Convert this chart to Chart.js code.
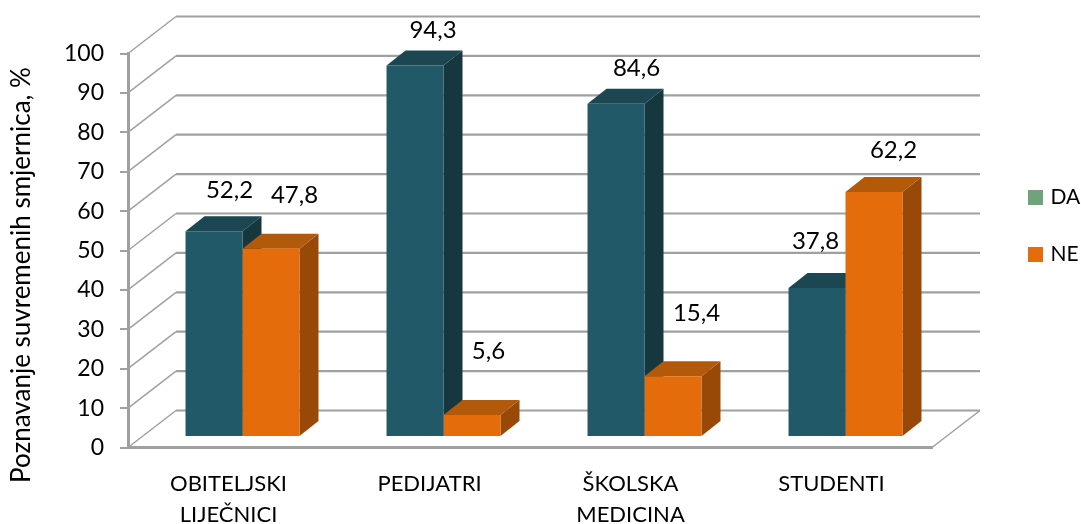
<!DOCTYPE html>
<html>
<head>
<meta charset="utf-8">
<title>Poznavanje suvremenih smjernica</title>
<style>
  html, body { margin: 0; padding: 0; background: #fff; }
  canvas { display: block; }
</style>
<script src="https://cdn.jsdelivr.net/npm/chart.js@4"></script>
</head>
<body>
<canvas id="chart" width="1081" height="524"></canvas>
<script>
const categories = [['OBITELJSKI', 'LIJEČNICI'], 'PEDIJATRI', ['ŠKOLSKA', 'MEDICINA'], 'STUDENTI'];
const daValues = [52.2, 94.3, 84.6, 37.8];
const neValues = [47.8, 5.6, 15.4, 62.2];
const seriesNames = ['DA', 'NE'];
const yAxisTitle = 'Poznavanje suvremenih smjernica, %';

// hand placed labels in the original, so each one gets its own nudge from the bar top
const labelNudge = [
    [[15.5, -41], [18, -35], [20.5, -35], [-1.5, -47]],
    [[23.5, -53], [16.5, -64], [23.5, -63], [19.5, -42]]
];

const FONT = 'Lato, sans-serif';
const GREY = '#a0a0a0';
const WALL_DX = 48, WALL_DY = -37;   // back wall offset
const BAR_DX = 14, BAR_DY = -10.5;   // bars stand in the middle of the floor
const DEPTH_DX = 19, DEPTH_DY = -15; // bar depth
const shades = [
    { front: '#215968', top: '#1b4652', side: '#17373f' },
    { front: '#e46c0a', top: '#b3590a', side: '#984807' }
];

function poly(ctx, pts, fill) {
    ctx.beginPath();
    pts.forEach((p, i) => i ? ctx.lineTo(p[0], p[1]) : ctx.moveTo(p[0], p[1]));
    ctx.closePath();
    ctx.fillStyle = fill;
    ctx.fill();
}

function line(ctx, x1, y1, x2, y2, width) {
    ctx.beginPath();
    ctx.moveTo(x1, y1);
    ctx.lineTo(x2, y2);
    ctx.lineWidth = width;
    ctx.strokeStyle = GREY;
    ctx.stroke();
}

const box3d = {
    id: 'box3d',
    afterLayout(chart) {
        // legend sits to the right of the floor, above the middle
        const legend = chart.legend;
        const pad = chart.options.plugins.legend.labels.padding;
        legend.left = 1031 - pad;
        legend.top = 187 - pad;
        legend.right = 1081;
        legend.bottom = 524;
    },
    beforeDatasetsDraw(chart) {
        const ctx = chart.ctx;
        const { left, right } = chart.chartArea;
        const y = chart.scales.y;
        ctx.save();
        // back wall lines and the diagonals on the side wall
        y.ticks.forEach(t => {
            const py = y.getPixelForValue(t.value);
            line(ctx, left, py, left + WALL_DX, py + WALL_DY, 1.5);
            line(ctx, left + WALL_DX, py + WALL_DY, right + WALL_DX, py + WALL_DY, 2.2);
        });
        const y0 = y.getPixelForValue(0);
        line(ctx, right, y0, right + WALL_DX, y0 + WALL_DY, 1.5);
        ctx.restore();

        ctx.save();
        ctx.translate(BAR_DX, BAR_DY);
        // tops and sides first, the library paints the fronts over them
        categories.forEach((c, i) => {
            [0, 1].forEach(d => {
                const bar = chart.getDatasetMeta(d).data[i];
                const l = bar.x - bar.width / 2, r = bar.x + bar.width / 2;
                poly(ctx, [[r, bar.y], [r + DEPTH_DX, bar.y + DEPTH_DY], [r + DEPTH_DX, bar.base + DEPTH_DY], [r, bar.base]], shades[d].side);
                poly(ctx, [[l, bar.y], [l + DEPTH_DX, bar.y + DEPTH_DY], [r + DEPTH_DX, bar.y + DEPTH_DY], [r, bar.y]], shades[d].top);
            });
        });
    },
    afterDatasetsDraw(chart) {
        const ctx = chart.ctx;
        ctx.restore();

        ctx.save();
        ctx.fillStyle = '#000';
        ctx.font = '24px ' + FONT;
        ctx.textAlign = 'center';
        ctx.textBaseline = 'middle';
        [daValues, neValues].forEach((vals, d) => {
            vals.forEach((v, i) => {
                const bar = chart.getDatasetMeta(d).data[i];
                const n = labelNudge[d][i];
                ctx.fillText(String(v).replace('.', ','), bar.x + BAR_DX + n[0], bar.y + BAR_DY + n[1]);
            });
        });
        ctx.translate(22, 275);
        ctx.rotate(-Math.PI / 2);
        ctx.font = '26px ' + FONT;
        ctx.fillText(yAxisTitle, 0, 0);
        ctx.restore();
    }
};

new Chart(document.getElementById('chart'), {
    type: 'bar',
    data: {
        labels: categories,
        datasets: [
            { label: seriesNames[0], data: daValues, backgroundColor: shades[0].front, clip: false },
            { label: seriesNames[1], data: neValues, backgroundColor: shades[1].front, clip: false }
        ]
    },
    options: {
        responsive: false,
        animation: false,
        categoryPercentage: 0.567,
        barPercentage: 1,
        layout: { padding: { top: 53.5, right: 149, left: 0, bottom: 0 } },
        plugins: {
            tooltip: { enabled: false },
            legend: {
                position: 'chartArea',
                align: 'start',
                labels: {
                    // small box with a fat stroke keeps the text close to the swatch
                    boxWidth: 9,
                    boxHeight: 9,
                    padding: 36,
                    color: '#000',
                    font: { family: FONT, size: 21 },
                    generateLabels: () => [
                        { text: seriesNames[0], fillStyle: '#6fa47a', strokeStyle: '#6fa47a', lineWidth: 6, datasetIndex: 0 },
                        { text: seriesNames[1], fillStyle: '#e46c0a', strokeStyle: '#e46c0a', lineWidth: 6, datasetIndex: 1 }
                    ]
                }
            }
        },
        scales: {
            x: {
                afterFit(scale) { scale.height = 76.5; },
                grid: { display: false, drawTicks: false },
                border: { display: true, color: GREY, width: 3 },
                ticks: { color: '#000', padding: 20, maxRotation: 0, autoSkip: false, font: { family: FONT, size: 22, lineHeight: 1.45 } }
            },
            y: {
                min: 0,
                max: 100,
                afterFit(scale) { scale.width = 128; },
                grid: { drawOnChartArea: false, drawTicks: true, tickLength: 8, color: GREY, lineWidth: 2 },
                border: { display: true, color: GREY, width: 3 },
                ticks: { stepSize: 10, color: '#000', padding: 16, font: { family: FONT, size: 23 } }
            }
        }
    },
    plugins: [box3d]
});
</script>
</body>
</html>
